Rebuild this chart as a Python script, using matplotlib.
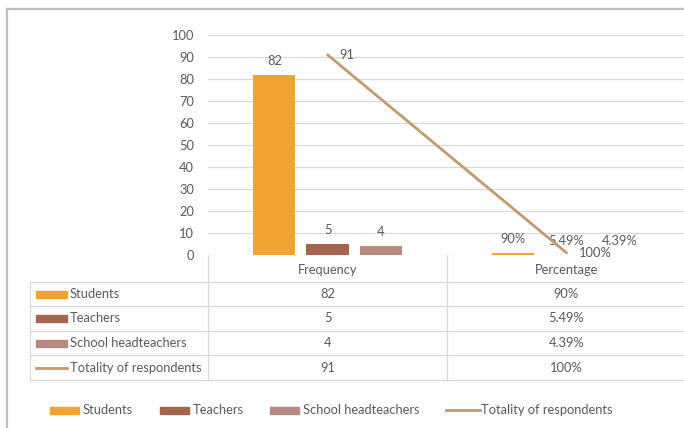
import matplotlib
matplotlib.use("Agg")
import matplotlib.pyplot as plt
from matplotlib.patches import Rectangle
from matplotlib.lines import Line2D

plt.rcParams['font.family'] = ['Lato', 'DejaVu Sans']

# --- data -------------------------------------------------------------
categories = ["Frequency", "Percentage"]
groups = ["Students", "Teachers", "School headteachers"]
frequency = [82, 5, 4]
percentage = [0.90, 0.0549, 0.0439]
total_label = "Totality of respondents"
total_values = [91, 1.00]
yticks = list(range(0, 101, 10))

colors = ["#F0A330", "#A5644E", "#B68A7E"]
line_color = "#C39A6B"
text_color = "#595959"
grid_color = "#D9D9D9"
fs = 9.3

W, H = 684, 428
fig = plt.figure(figsize=(W / 100, H / 100), dpi=100)

# plot area in pixel units
px_l, px_r, px_t, px_b = 208, 686, 35, 255
ax = fig.add_axes([px_l / W, 1 - px_b / H, (px_r - px_l) / W, (px_b - px_t) / H])
ax.set_xlim(-0.5, 1.5)
ax.set_ylim(0, 100)
for s in ax.spines.values():
    s.set_visible(False)
ax.set_yticks(yticks)
ax.set_yticklabels([str(t) for t in yticks], color=text_color, fontsize=fs)
ax.tick_params(axis="y", length=0, pad=10)
ax.set_xticks([])
ax.yaxis.grid(True, color=grid_color, linewidth=0.9)
ax.set_axisbelow(True)

bar_w = 0.176
step = 0.222
x_cat = [0, 1]
series_vals = [[frequency[i], percentage[i]] for i in range(3)]
for i, g in enumerate(groups):
    xs = [x + (i - 1) * step for x in x_cat]
    bars = ax.bar(xs, series_vals[i], width=bar_w, color=colors[i], zorder=2)
    labels = [str(frequency[i]), f"{percentage[i] * 100:g}%"]
    for b, lab in zip(bars, labels):
        ax.annotate(lab, (b.get_x() + b.get_width() / 2, b.get_height()),
                    xytext=(0, 14), textcoords="offset pixels",
                    ha="center", va="center", color=text_color, fontsize=fs)

ax.plot(x_cat, total_values, color=line_color, linewidth=2.0, zorder=3,
        solid_capstyle="round")
total_labels = [str(total_values[0]), f"{total_values[1] * 100:g}%"]
for x, v, lab in zip(x_cat, total_values, total_labels):
    ax.annotate(lab, (x, v), xytext=(12, 0), textcoords="offset pixels",
                ha="left", va="center", color=text_color, fontsize=fs)

# --- overlay in pixel coordinates: frame, data table, legend ----------
ov = fig.add_axes([0, 0, 1, 1], zorder=5)
ov.set_xlim(0, W)
ov.set_ylim(H, 0)
ov.axis("off")
ov.patch.set_alpha(0)

# outer frame
ov.add_line(Line2D([7, 7], [9, H + 5], color="#BFBFBF", linewidth=1.6))
ov.add_line(Line2D([7, W + 5], [9, 9], color="#BFBFBF", linewidth=1.6))

tbl_left = 30
col_x = [px_l, 447, px_r]
row_y = [282, 306, 331, 355, 380]
tl = dict(color=grid_color, linewidth=0.9)
for y in row_y:
    ov.add_line(Line2D([tbl_left, px_r], [y, y], **tl))
for x in col_x:
    ov.add_line(Line2D([x, x], [px_b, row_y[-1]], **tl))
ov.add_line(Line2D([tbl_left, tbl_left], [row_y[0], row_y[-1]], **tl))

# header row
for j, c in enumerate(categories):
    ov.text((col_x[j] + col_x[j + 1]) / 2, (px_b + row_y[0]) / 2 + 1, c,
            ha="center", va="center", color=text_color, fontsize=fs)

# body rows
row_names = groups + [total_label]
freq_col = [str(v) for v in frequency] + [str(total_values[0])]
pct_col = [f"{v * 100:g}%" for v in percentage] + [f"{total_values[1] * 100:g}%"]
for r, name in enumerate(row_names):
    yc = (row_y[r] + row_y[r + 1]) / 2
    if r < 3:
        ov.add_patch(Rectangle((36, yc - 3.5), 31, 7, color=colors[r]))
    else:
        ov.add_line(Line2D([36, 67], [yc, yc], color=line_color, linewidth=2.0))
    ov.text(70, yc, name, ha="left", va="center", color=text_color, fontsize=fs)
    ov.text((col_x[0] + col_x[1]) / 2, yc, freq_col[r], ha="center", va="center",
            color=text_color, fontsize=fs)
    ov.text((col_x[1] + col_x[2]) / 2, yc, pct_col[r], ha="center", va="center",
            color=text_color, fontsize=fs)

# legend
leg_y = 410
leg_x = [50, 160, 270, 446]
for k, name in enumerate(row_names):
    x0 = leg_x[k]
    if k < 3:
        ov.add_patch(Rectangle((x0, leg_y - 3.5), 29, 7, color=colors[k]))
        ov.text(x0 + 33, leg_y, name, ha="left", va="center", color=text_color, fontsize=fs)
    else:
        ov.add_line(Line2D([x0, x0 + 34], [leg_y, leg_y], color=line_color, linewidth=2.0))
        ov.text(x0 + 35, leg_y, name, ha="left", va="center", color=text_color, fontsize=fs)

fig.savefig("out.png", dpi=100)
